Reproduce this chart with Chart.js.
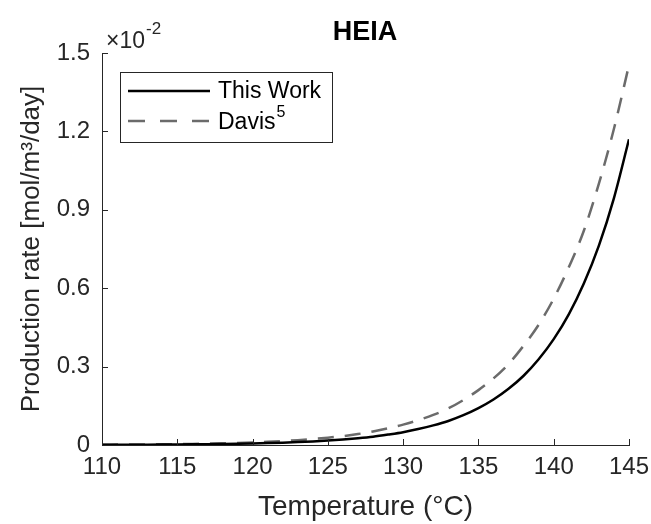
<!DOCTYPE html>
<html>
<head>
<meta charset="utf-8">
<script src="https://cdn.jsdelivr.net/npm/chart.js@4.4.1/dist/chart.umd.min.js"></script>
<style>
  html, body { margin: 0; padding: 0; background: #fff; }
  #wrap { width: 651px; height: 524px; }
</style>
</head>
<body>
<div id="wrap"><canvas id="chart" width="651" height="524"></canvas></div>
<script>
// temperature in °C
const temps = [110, 111, 112, 113, 114, 115, 116, 117, 118, 119, 120, 121, 122, 123, 124, 125, 126, 127,
    128, 129, 130, 131, 132, 133, 134, 135, 136, 137, 138, 139, 140, 141, 142, 143, 144, 145];
// production rate, in units of 10^-2 mol/m3/day
const thisWork = [0.0007, 0.0009, 0.0011, 0.0013, 0.0016, 0.0020, 0.0025, 0.0031, 0.0039, 0.0048,
    0.0059, 0.0073, 0.0090, 0.0111, 0.0137, 0.017, 0.021, 0.026, 0.032, 0.040,
    0.049, 0.061, 0.075, 0.092, 0.114, 0.141, 0.174, 0.215, 0.265, 0.328,
    0.405, 0.500, 0.618, 0.763, 0.945, 1.170];
const davis = [0.0012, 0.0015, 0.0018, 0.0023, 0.0028, 0.0035, 0.0043, 0.0053, 0.0066, 0.0081,
    0.010, 0.0122, 0.015, 0.0185, 0.023, 0.028, 0.034, 0.042, 0.052, 0.064,
    0.078, 0.095, 0.115, 0.140, 0.172, 0.210, 0.255, 0.310, 0.380, 0.460,
    0.560, 0.680, 0.820, 1.000, 1.210, 1.454];
const yTicks = [0, 0.3, 0.6, 0.9, 1.2, 1.5];
const xTicks = [110, 115, 120, 125, 130, 135, 140, 145];

const axisColor = '#262626';
const font = '"Liberation Sans", Arial, Helvetica, sans-serif';

function points(ys) {
    return temps.map((t, i) => ({ x: t, y: ys[i] }));
}

// inward tick marks, title, exponent label and legend box
const decorations = {
    id: 'decorations',
    afterDraw(chart) {
        const ctx = chart.ctx;
        const xs = chart.scales.x;
        const ys = chart.scales.y;
        const area = chart.chartArea;
        ctx.save();
        ctx.strokeStyle = axisColor;
        ctx.lineWidth = 1;
        ctx.beginPath();
        xTicks.forEach(v => {
            const px = Math.round(xs.getPixelForValue(v)) + 0.5;
            ctx.moveTo(px, area.bottom);
            ctx.lineTo(px, area.bottom - 6);
        });
        yTicks.forEach(v => {
            const py = Math.round(ys.getPixelForValue(v)) + 0.5;
            ctx.moveTo(area.left, py);
            ctx.lineTo(area.left + 6, py);
        });
        ctx.stroke();

        // title
        ctx.fillStyle = '#000';
        ctx.font = 'bold 27px ' + font;
        ctx.textAlign = 'center';
        ctx.textBaseline = 'alphabetic';
        ctx.fillText('HEIA', 365, 40);

        // exponent
        ctx.fillStyle = axisColor;
        ctx.textAlign = 'left';
        ctx.font = '23px ' + font;
        ctx.fillText('\u00d710', 106, 48);
        const w = ctx.measureText('\u00d710').width;
        ctx.font = '17px ' + font;
        ctx.fillText('-2', 106 + w + 1, 34);

        // legend
        const bx = 120, by = 72, bw = 212, bh = 70;
        ctx.fillStyle = '#fff';
        ctx.fillRect(bx, by, bw, bh);
        ctx.strokeStyle = '#262626';
        ctx.lineWidth = 1;
        ctx.strokeRect(bx + 0.5, by + 0.5, bw, bh);

        ctx.lineWidth = 2.5;
        ctx.strokeStyle = '#000';
        ctx.setLineDash([]);
        ctx.beginPath();
        ctx.moveTo(128, 91);
        ctx.lineTo(210, 91);
        ctx.stroke();

        ctx.strokeStyle = '#6b6b6b';
        ctx.setLineDash([17, 15]);
        ctx.beginPath();
        ctx.moveTo(128, 121);
        ctx.lineTo(210, 121);
        ctx.stroke();
        ctx.setLineDash([]);

        ctx.fillStyle = '#000';
        ctx.font = '23px ' + font;
        ctx.textBaseline = 'middle';
        ctx.fillText('This Work', 218, 92);
        ctx.fillText('Davis', 218, 123);
        const dw = ctx.measureText('Davis').width;
        ctx.font = '16px ' + font;
        ctx.fillText('5', 218 + dw + 1, 113);
        ctx.restore();
    }
};

new Chart(document.getElementById('chart'), {
    type: 'line',
    data: {
        datasets: [
            {
                label: 'This Work',
                data: points(thisWork),
                borderColor: '#000',
                borderWidth: 2.5,
                pointRadius: 0,
                cubicInterpolationMode: 'monotone'
            },
            {
                label: 'Davis5',
                data: points(davis),
                borderColor: '#6b6b6b',
                borderWidth: 2.5,
                borderDash: [16, 11],
                pointRadius: 0,
                cubicInterpolationMode: 'monotone'
            }
        ]
    },
    options: {
        responsive: false,
        animation: false,
        layout: { padding: { top: 53, right: 22, left: 0, bottom: 0 } },
        plugins: {
            legend: { display: false },
            tooltip: { enabled: false }
        },
        scales: {
            x: {
                type: 'linear',
                min: 110,
                max: 145,
                afterBuildTicks: s => { s.ticks = xTicks.map(v => ({ value: v })); },
                grid: { display: false, drawTicks: false },
                border: { display: true, color: axisColor, width: 1 },
                ticks: {
                    color: axisColor,
                    font: { family: font, size: 24 },
                    padding: 8,
                    maxRotation: 0
                },
                title: {
                    display: true,
                    text: 'Temperature (\u00b0C)',
                    color: axisColor,
                    font: { family: font, size: 28 },
                    padding: { top: 2, bottom: 0 }
                },
                afterFit: s => {
                    s.height = 79;
                    s.paddingLeft = 0;
                    s.paddingRight = 0;
                }
            },
            y: {
                min: 0,
                max: 1.5,
                afterBuildTicks: s => { s.ticks = yTicks.map(v => ({ value: v })); },
                grid: { display: false, drawTicks: false },
                border: { display: true, color: axisColor, width: 1 },
                ticks: {
                    color: axisColor,
                    font: { family: font, size: 24 },
                    padding: 12,
                    callback: v => v === 0 ? '0' : v.toFixed(1)
                },
                title: {
                    display: true,
                    text: 'Production rate [mol/m\u00b3/day]',
                    color: axisColor,
                    font: { family: font, size: 26 },
                    padding: { top: 16, bottom: 0 }
                },
                afterFit: s => {
                    s.width = 102;
                    s.paddingTop = 0;
                    s.paddingBottom = 0;
                }
            }
        }
    },
    plugins: [decorations]
});
</script>
</body>
</html>
